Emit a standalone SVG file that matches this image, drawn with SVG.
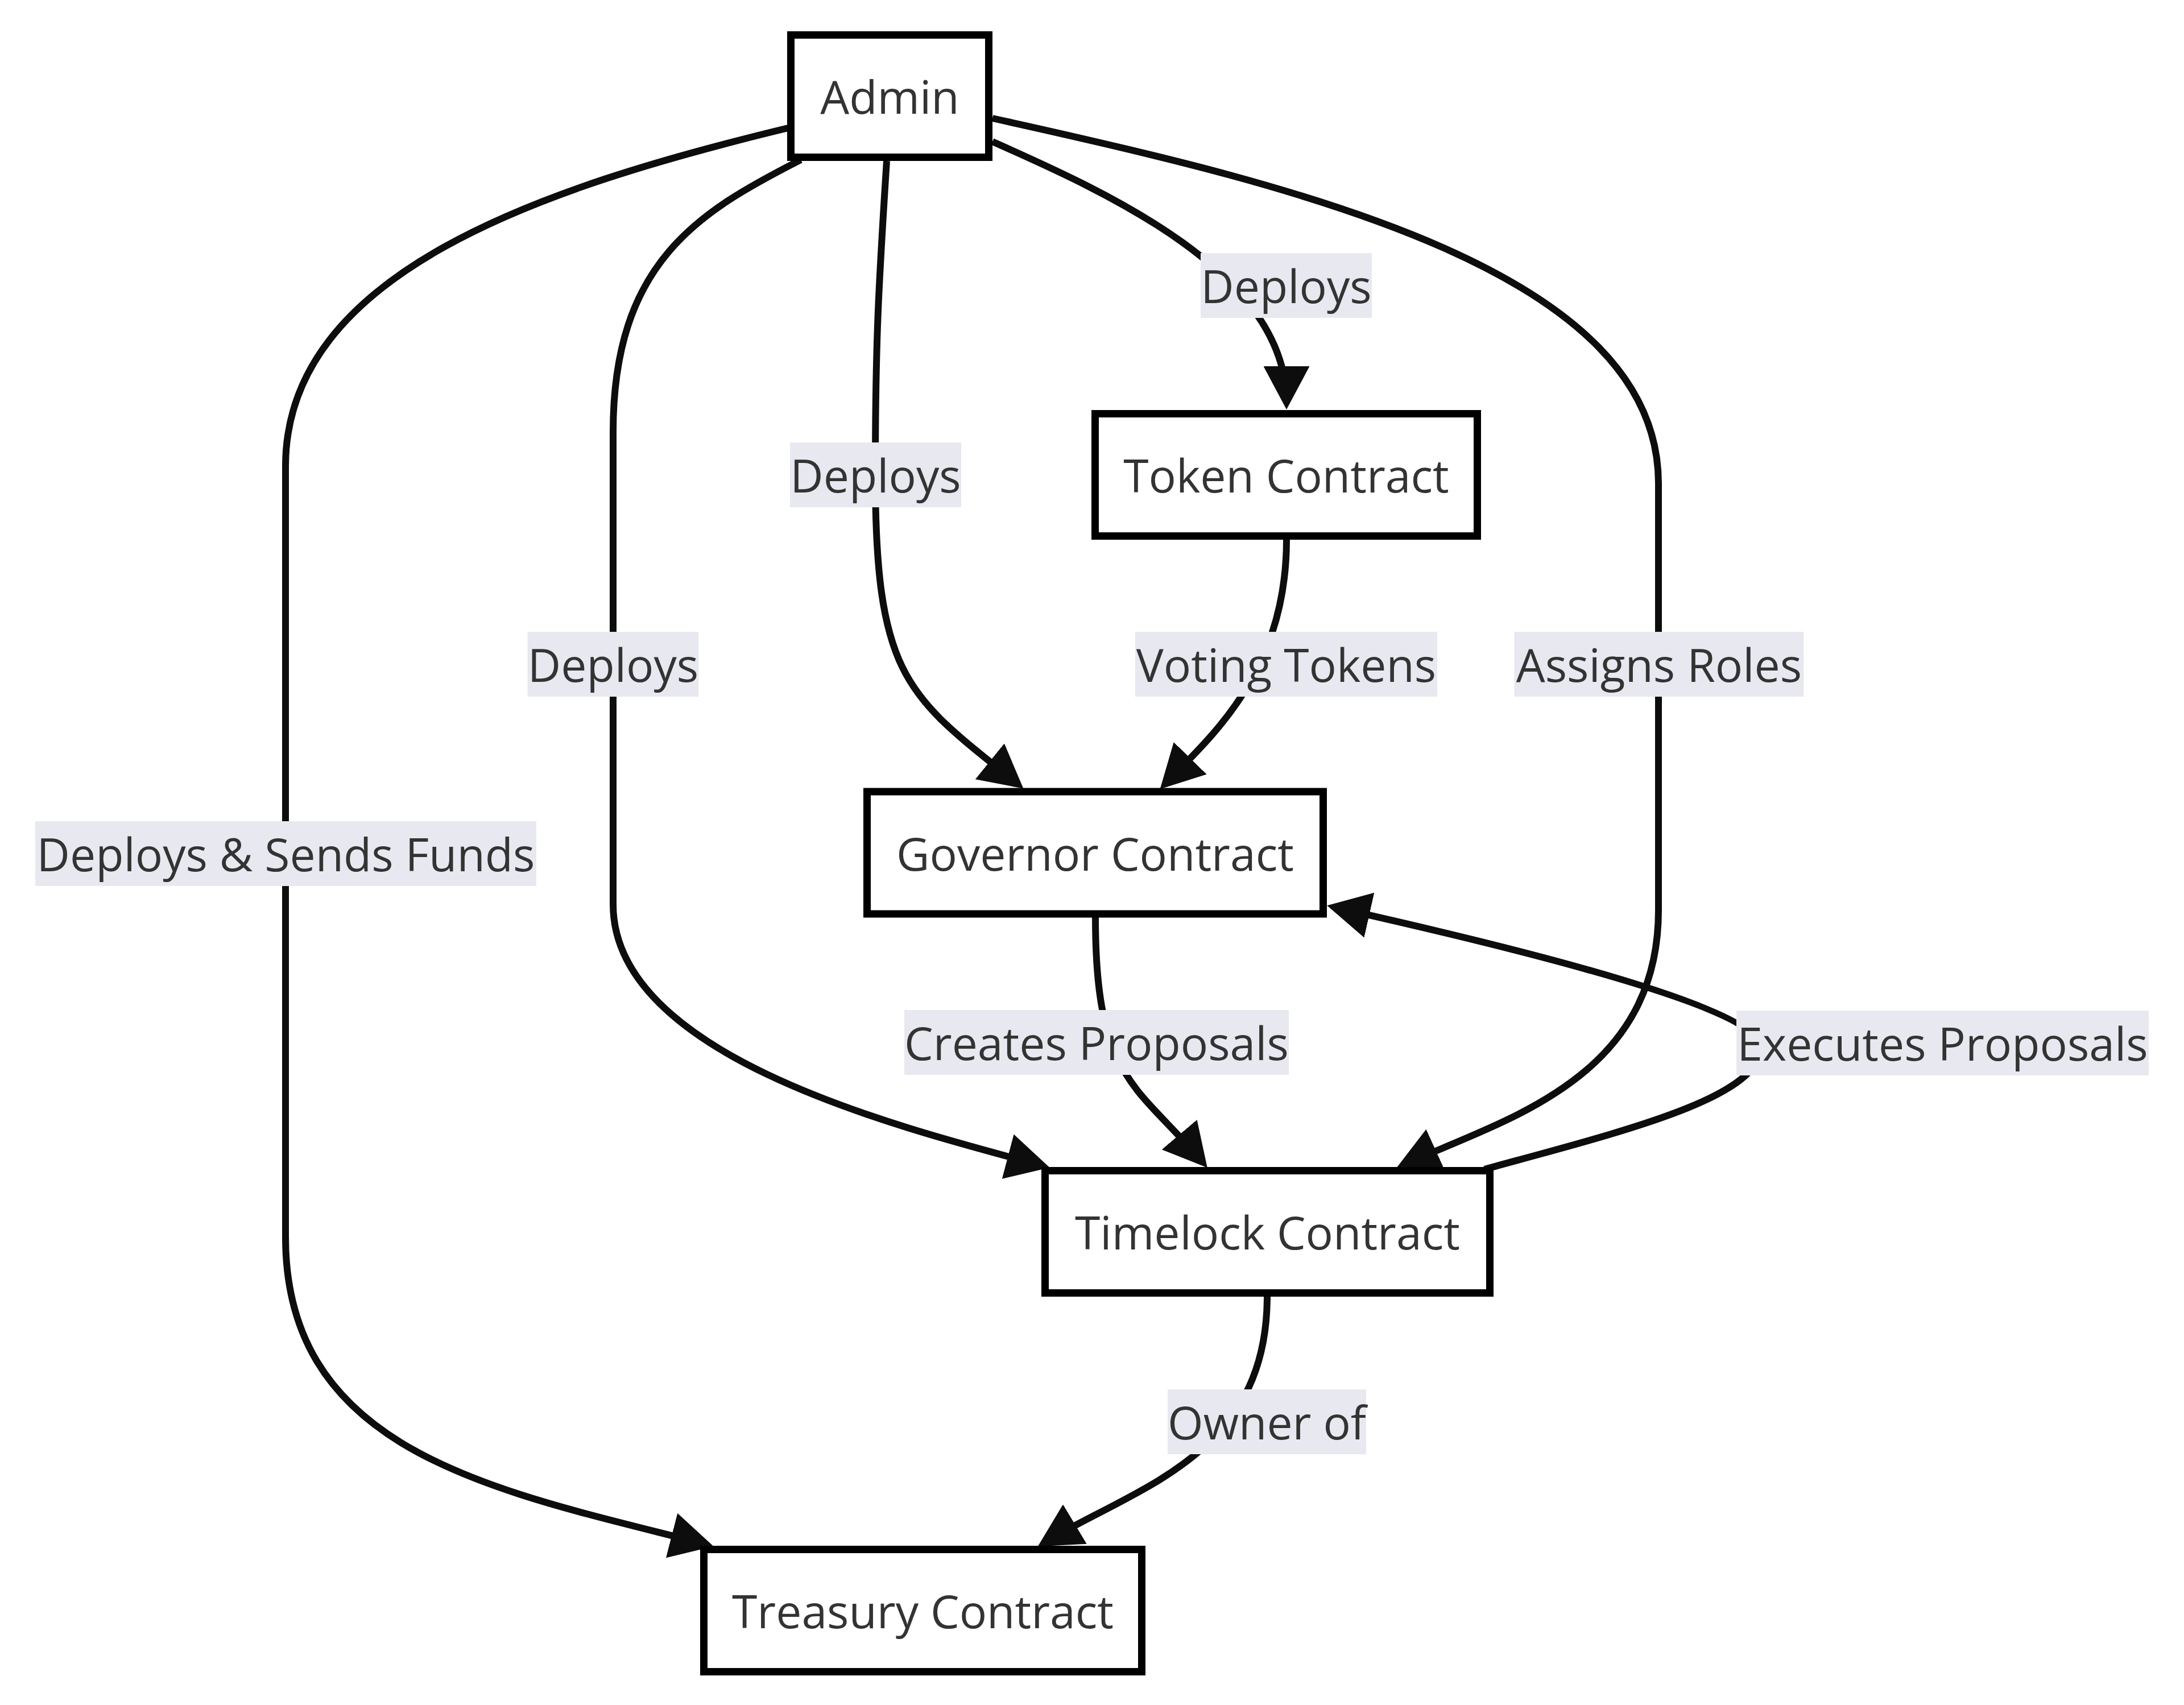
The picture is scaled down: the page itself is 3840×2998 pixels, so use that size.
<svg xmlns="http://www.w3.org/2000/svg" width="3840" height="2998" viewBox="0 0 3840 2998">
  <style>
    .node rect { fill: #ffffff; stroke: #000000; stroke-width: 13; }
    .node text, .label text { font-family: "Open Sans", "Noto Sans", "Liberation Sans", sans-serif; font-size: 80.5px; fill: #333333; text-anchor: middle; }
    .edge { fill: none; stroke: #0d0d0d; stroke-width: 12; marker-end: url(#arrow); }
    .label rect { fill: #e8e8f0; stroke: none; }
  </style>
  <defs>
    <marker id="arrow" markerUnits="userSpaceOnUse" viewBox="0 0 76 81" markerWidth="76" markerHeight="81" refX="64" refY="40.5" orient="auto">
      <path d="M0,0 L76,40.5 L0,81 z" fill="#0d0d0d"/>
    </marker>
  </defs>
  <rect x="0" y="0" width="3840" height="2998" fill="#ffffff"/>

  <g id="connectors">
    <path id="e-admin-treasury" class="edge" d="M1390,224 C950,330 502,480 502,820 L502,2175 C502,2560 880,2622 1243,2716"/>
    <path id="e-admin-timelock" class="edge" d="M1408,281 C1230,372 1078,460 1078,760 L1078,1590 C1078,1850 1550,1975 1834,2050"/>
    <path id="e-admin-governor" class="edge" d="M1559,283 C1545,500 1539,600 1539,835 C1539,1200 1600,1225 1790,1379"/>
    <path id="e-admin-token" class="edge" d="M1745,249 C1950,340 2262,480 2262,708"/>
    <path id="e-admin-timelock-roles" class="edge" d="M1745,208 C2300,330 2916,480 2916,850 L2916,1600 C2916,1900 2640,1970 2466,2049"/>
    <path id="e-token-governor" class="edge" d="M2262,949 C2262,1180 2132,1293 2048,1379"/>
    <path id="e-governor-timelock" class="edge" d="M1926,1612 C1926,1900 2000,1908 2115,2044"/>
    <path id="e-timelock-governor" class="edge" d="M2610,2056 C2850,1990 3100,1930 3095,1840 C3090,1760 2491,1628 2345,1595"/>
    <path id="e-timelock-treasury" class="edge" d="M2228,2279 C2228,2560 2000,2614 1835,2713"/>
  </g>

  <g id="node-admin" class="node">
    <rect x="1390.5" y="61.5" width="348" height="215"/>
    <text x="1564.5" y="200">Admin</text>
  </g>
  <g id="node-token" class="node">
    <rect x="1925.5" y="727.5" width="672" height="215"/>
    <text x="2261.5" y="866">Token Contract</text>
  </g>
  <g id="node-governor" class="node">
    <rect x="1524.5" y="1392" width="802" height="215"/>
    <text x="1925.5" y="1530.5">Governor Contract</text>
  </g>
  <g id="node-timelock" class="node">
    <rect x="1837.5" y="2058.5" width="782" height="215"/>
    <text x="2228.5" y="2197">Timelock Contract</text>
  </g>
  <g id="node-treasury" class="node">
    <rect x="1237.5" y="2724.5" width="770" height="215"/>
    <text x="1622.5" y="2863">Treasury Contract</text>
  </g>

  <g id="edge-labels">
    <g class="label"><rect x="2111" y="445" width="301" height="114"/><text x="2261.5" y="533">Deploys</text></g>
    <g class="label"><rect x="1389" y="778" width="301" height="114"/><text x="1539.5" y="866">Deploys</text></g>
    <g class="label"><rect x="927.5" y="1111" width="301" height="114"/><text x="1078" y="1199">Deploys</text></g>
    <g class="label"><rect x="62" y="1444" width="881" height="114"/><text x="502.5" y="1532">Deploys &amp; Sends Funds</text></g>
    <g class="label"><rect x="1996" y="1111" width="531" height="114"/><text x="2261.5" y="1199">Voting Tokens</text></g>
    <g class="label"><rect x="2662.5" y="1111" width="509" height="114"/><text x="2917" y="1199">Assigns Roles</text></g>
    <g class="label"><rect x="1590" y="1776" width="676" height="114"/><text x="1928" y="1864">Creates Proposals</text></g>
    <g class="label"><rect x="3053" y="1777" width="725" height="114"/><text x="3415.5" y="1865">Executes Proposals</text></g>
    <g class="label"><rect x="2053" y="2443" width="349" height="114"/><text x="2227.5" y="2531">Owner of</text></g>
  </g>
</svg>
